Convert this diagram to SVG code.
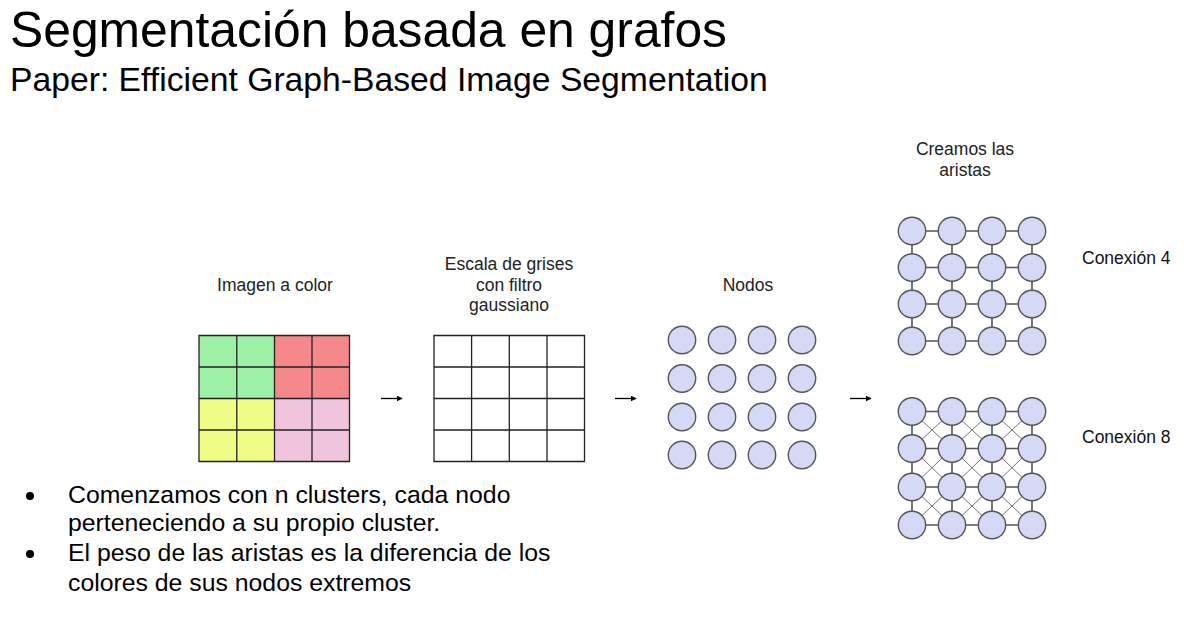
<svg xmlns="http://www.w3.org/2000/svg" width="1204" height="632" viewBox="0 0 1204 632">
  <defs>
    <style>
      .title { font-family: "Liberation Sans", Arial, sans-serif; fill: #000; }
      .lbl { font-family: "Liberation Sans", Arial, sans-serif; font-size: 17.5px; fill: #222; text-anchor: middle; }
      .lblL { font-family: "Liberation Sans", Arial, sans-serif; font-size: 17.5px; fill: #111; }
      .bul { font-family: "Liberation Sans", Arial, sans-serif; font-size: 24.8px; fill: #000; }
      .gridline { stroke: #222; stroke-width: 1.3; fill: none; }
      .node { fill: #d5d9f5; stroke: #555; stroke-width: 1.4; }
      .edge { stroke: #555; stroke-width: 1.6; }
      .diag { stroke: #777; stroke-width: 1; }
      .arrow { stroke: #000; stroke-width: 1.3; marker-end: url(#head); }
    </style>
    <marker id="head" viewBox="0 0 10 10" refX="9" refY="5" markerWidth="6" markerHeight="6" markerUnits="userSpaceOnUse" orient="auto">
      <path d="M0,0 L10,5 L0,10 z" fill="#000"/>
    </marker>
    <circle id="n" r="13.7" class="node"/>
  </defs>
  <rect width="1204" height="632" fill="#fff"/>

  <!-- heading -->
  <text class="title" x="10" y="47" font-size="49.8">Segmentación basada en grafos</text>
  <text class="title" x="10" y="91" font-size="33.7">Paper: Efficient Graph-Based Image Segmentation</text>

  <!-- colour image -->
  <g id="color-image">
    <text class="lbl" x="275" y="291">Imagen a color</text>
    <rect x="199" y="335.5" width="75.5" height="63" fill="#9ef0a6"/>
    <rect x="274.5" y="335.5" width="75" height="63" fill="#f4888b"/>
    <rect x="199" y="398.5" width="75.5" height="63" fill="#f2fd88"/>
    <rect x="274.5" y="398.5" width="75" height="63" fill="#f0c4dc"/>
    <path class="gridline" d="M199,335.5 H349.5 V461.5 H199 Z M236.8,335.5 V461.5 M274.5,335.5 V461.5 M312,335.5 V461.5 M199,367 H349.5 M199,398.5 H349.5 M199,430 H349.5"/>
  </g>

  <!-- grayscale image -->
  <g id="gray-image">
    <text class="lbl" x="509" y="270">Escala de grises</text>
    <text class="lbl" x="509" y="291">con filtro</text>
    <text class="lbl" x="509" y="311">gaussiano</text>
    <path class="gridline" d="M434,335.5 H584.5 V461.5 H434 Z M471.6,335.5 V461.5 M509.3,335.5 V461.5 M547,335.5 V461.5 M434,367 H584.5 M434,398.5 H584.5 M434,430 H584.5"/>
  </g>

  <!-- isolated nodes -->
  <g id="nodes">
    <text class="lbl" x="748" y="291">Nodos</text>
    <use href="#n" x="682" y="340"/><use href="#n" x="722" y="340"/><use href="#n" x="762" y="340"/><use href="#n" x="802" y="340"/>
    <use href="#n" x="682" y="378.5"/><use href="#n" x="722" y="378.5"/><use href="#n" x="762" y="378.5"/><use href="#n" x="802" y="378.5"/>
    <use href="#n" x="682" y="417"/><use href="#n" x="722" y="417"/><use href="#n" x="762" y="417"/><use href="#n" x="802" y="417"/>
    <use href="#n" x="682" y="455"/><use href="#n" x="722" y="455"/><use href="#n" x="762" y="455"/><use href="#n" x="802" y="455"/>
  </g>

  <!-- connectors -->
  <g id="connectors">
    <line class="arrow" x1="381" y1="398.5" x2="402" y2="398.5"/>
    <line class="arrow" x1="615" y1="398.5" x2="636" y2="398.5"/>
    <line class="arrow" x1="850" y1="398.5" x2="871" y2="398.5"/>

    <!-- 4-connectivity edges -->
    <path class="edge" d="M912,231 H1032 M912,267.5 H1032 M912,304 H1032 M912,341 H1032 M912,231 V341 M952,231 V341 M992,231 V341 M1032,231 V341"/>

    <!-- 8-connectivity edges -->
    <path class="diag" d="M912,411.5 L952,448.5 M952,411.5 L912,448.5 M952,411.5 L992,448.5 M992,411.5 L952,448.5 M992,411.5 L1032,448.5 M1032,411.5 L992,448.5
      M912,448.5 L952,487 M952,448.5 L912,487 M952,448.5 L992,487 M992,448.5 L952,487 M992,448.5 L1032,487 M1032,448.5 L992,487
      M912,487 L952,525 M952,487 L912,525 M952,487 L992,525 M992,487 L952,525 M992,487 L1032,525 M1032,487 L992,525"/>
    <path class="edge" d="M912,411.5 H1032 M912,448.5 H1032 M912,487 H1032 M912,525 H1032 M912,411.5 V525 M952,411.5 V525 M992,411.5 V525 M1032,411.5 V525"/>
  </g>

  <!-- 4-connected graph -->
  <g id="graph-4">
    <text class="lbl" x="965" y="155">Creamos las</text>
    <text class="lbl" x="965" y="176">aristas</text>
    <use href="#n" x="912" y="231"/><use href="#n" x="952" y="231"/><use href="#n" x="992" y="231"/><use href="#n" x="1032" y="231"/>
    <use href="#n" x="912" y="267.5"/><use href="#n" x="952" y="267.5"/><use href="#n" x="992" y="267.5"/><use href="#n" x="1032" y="267.5"/>
    <use href="#n" x="912" y="304"/><use href="#n" x="952" y="304"/><use href="#n" x="992" y="304"/><use href="#n" x="1032" y="304"/>
    <use href="#n" x="912" y="341"/><use href="#n" x="952" y="341"/><use href="#n" x="992" y="341"/><use href="#n" x="1032" y="341"/>
    <text class="lblL" x="1082" y="264">Conexión 4</text>
  </g>

  <!-- 8-connected graph -->
  <g id="graph-8">
    <use href="#n" x="912" y="411.5"/><use href="#n" x="952" y="411.5"/><use href="#n" x="992" y="411.5"/><use href="#n" x="1032" y="411.5"/>
    <use href="#n" x="912" y="448.5"/><use href="#n" x="952" y="448.5"/><use href="#n" x="992" y="448.5"/><use href="#n" x="1032" y="448.5"/>
    <use href="#n" x="912" y="487"/><use href="#n" x="952" y="487"/><use href="#n" x="992" y="487"/><use href="#n" x="1032" y="487"/>
    <use href="#n" x="912" y="525"/><use href="#n" x="952" y="525"/><use href="#n" x="992" y="525"/><use href="#n" x="1032" y="525"/>
    <text class="lblL" x="1082" y="443">Conexión 8</text>
  </g>

  <!-- bullet notes -->
  <g id="notes">
    <circle cx="30" cy="496" r="4" fill="#000"/>
    <circle cx="30" cy="554" r="4" fill="#000"/>
    <text class="bul" x="68" y="503">Comenzamos con n clusters, cada nodo</text>
    <text class="bul" x="68" y="531">perteneciendo a su propio cluster.</text>
    <text class="bul" x="68" y="561">El peso de las aristas es la diferencia de los</text>
    <text class="bul" x="68" y="591">colores de sus nodos extremos</text>
  </g>
</svg>
